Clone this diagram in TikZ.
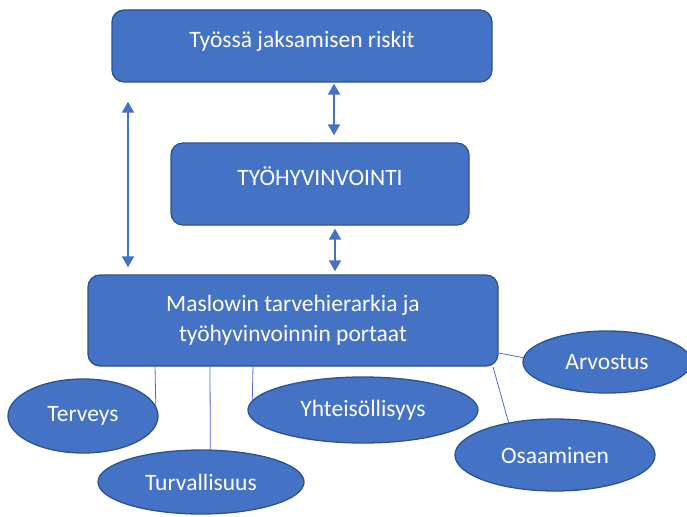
\documentclass[tikz,border=0pt]{standalone}
\usepackage{fontspec}
\setmainfont{Carlito}
\usetikzlibrary{arrows.meta,shapes.geometric}

\definecolor{officeblue}{HTML}{4472C4}
\definecolor{officeedge}{HTML}{2F528F}

\begin{document}
\begin{tikzpicture}[x=1pt, y=-1pt, >={Triangle[width=12pt,length=11pt]},
  font=\fontsize{23.5}{30}\selectfont,
  box/.style={draw=officeedge, line width=1.3pt, fill=officeblue, text=white,
    rounded corners=12pt, inner sep=0pt, align=center},
  topbox/.style={box, text height=16pt, text depth=13pt},
  bubble/.style={ellipse, draw=officeedge, line width=1.3pt, fill=officeblue,
    text=white, inner sep=0pt},
  twoway/.style={<->, officeblue, line width=2pt},
  link/.style={officeblue, line width=0.8pt}]
  \useasboundingbox (0,0) rectangle (687,516);
  % Boxes
  \node[topbox, minimum width=380pt, minimum height=72pt] (riskit) at (302,46) {Työssä jaksamisen riskit};
  \node[topbox, minimum width=298pt, minimum height=82pt] (hyvinvointi) at (320,184) {TYÖHYVINVOINTI};
  \node[box, minimum width=410pt, minimum height=91pt] (maslow) at (293,320.5)
    {Maslowin tarvehierarkia ja\\työhyvinvoinnin portaat};
  % Arrows between the boxes
  \draw[twoway, shorten <=1pt, shorten >=7pt] ([xshift=32pt]riskit.south) -- ([xshift=14pt]hyvinvointi.north);
  \draw[twoway, shorten <=3pt, shorten >=3pt] ([xshift=15pt]hyvinvointi.south) -- ([xshift=42pt]maslow.north);
  \draw[twoway, shorten <=19pt, shorten >=7pt] ([xshift=-174pt]riskit.south) -- ([xshift=-165pt]maslow.north);
  % Needs
  \node[bubble, minimum width=150pt, minimum height=74pt] (terveys) at (83,416) {Terveys};
  \node[bubble, minimum width=206pt, minimum height=64pt] (turvallisuus) at (201,482) {Turvallisuus};
  \node[bubble, minimum width=230pt, minimum height=66pt] (yhteiso) at (363,410) {Yhteisöllisyys};
  \node[bubble, minimum width=200pt, minimum height=72pt] (osaaminen) at (555,455) {Osaaminen};
  \node[bubble, minimum width=168pt, minimum height=62pt] (arvostus) at (607,362) {Arvostus};
  % Links to the needs
  \draw[link] ([xshift=-138pt]maslow.south) -- (terveys.8);
  \draw[link] ([xshift=-83pt]maslow.south) -- (turvallisuus.74);
  \draw[link] ([xshift=-40pt]maslow.south) -- (yhteiso.175);
  \draw[link] (maslow.-13) -- (osaaminen.145);
  \draw[link] (maslow.-9) -- (arvostus.177);
\end{tikzpicture}
\end{document}
